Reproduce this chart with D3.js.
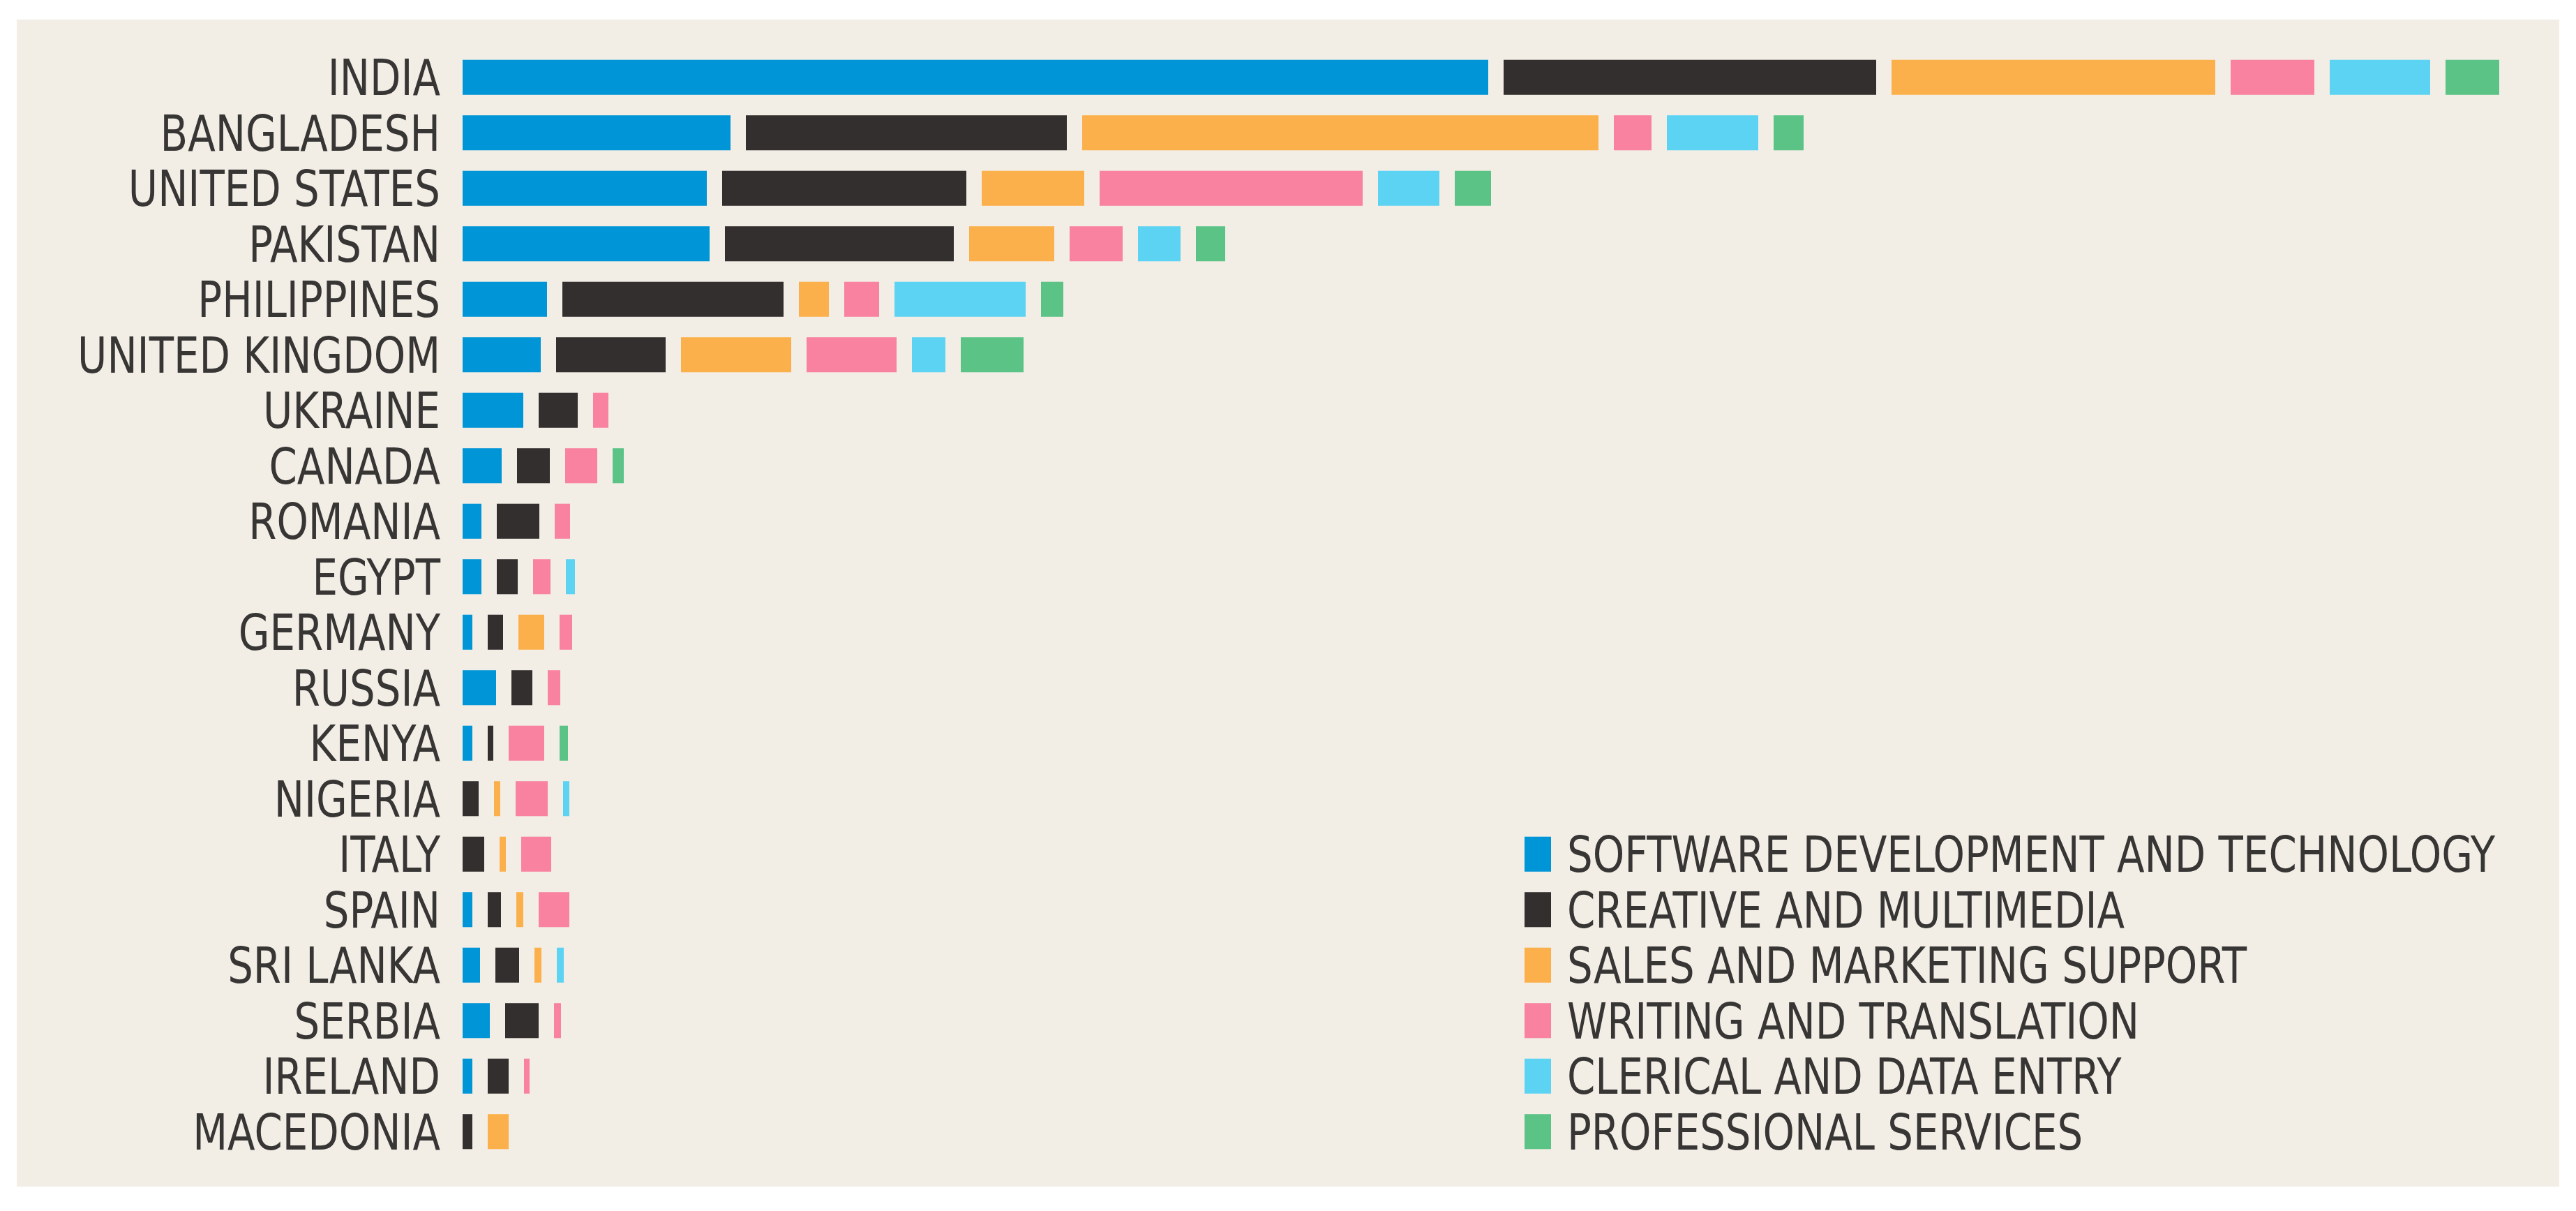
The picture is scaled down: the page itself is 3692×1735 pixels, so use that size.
<!DOCTYPE html>
<html>
<head>
<meta charset="utf-8">
<script src="https://cdn.jsdelivr.net/npm/d3@7"></script>
<style>
  body { margin: 0; background: #ffffff; }
  text { font-family: "DejaVu Sans Condensed", "DejaVu Sans", sans-serif; fill: #383635; }
</style>
</head>
<body>
<div id="my_dataviz"></div>
<script>

// countries, top to bottom
const countries = ["INDIA", "BANGLADESH", "UNITED STATES", "PAKISTAN", "PHILIPPINES",
    "UNITED KINGDOM", "UKRAINE", "CANADA", "ROMANIA", "EGYPT", "GERMANY", "RUSSIA",
    "KENYA", "NIGERIA", "ITALY", "SPAIN", "SRI LANKA", "SERBIA", "IRELAND", "MACEDONIA"];

const categories = ["SOFTWARE DEVELOPMENT AND TECHNOLOGY", "CREATIVE AND MULTIMEDIA",
    "SALES AND MARKETING SUPPORT", "WRITING AND TRANSLATION",
    "CLERICAL AND DATA ENTRY", "PROFESSIONAL SERVICES"];

// one array per category, same order as countries
const software     = [147.0, 38.4, 35.0, 35.4, 12.1, 11.2, 8.7, 5.6, 2.7, 2.7, 1.4, 4.8, 1.4, 0.0, 0.0, 1.4, 2.5, 3.9, 1.4, 0.0];
const creative     = [53.4, 46.0, 35.0, 32.8, 31.7, 15.7, 5.6, 4.7, 6.1, 3.0, 2.2, 3.0, 0.8, 2.3, 3.1, 1.9, 3.4, 4.8, 3.0, 1.4];
const sales        = [46.4, 74.0, 14.7, 12.2, 4.3, 15.8, 0.0, 0.0, 0.0, 0.0, 3.7, 0.0, 0.0, 0.9, 0.9, 1.0, 1.0, 0.0, 0.0, 3.0];
const writing      = [12.0, 5.4, 37.7, 7.6, 5.0, 12.9, 2.2, 4.6, 2.2, 2.5, 1.8, 1.8, 5.1, 4.6, 4.3, 4.4, 0.0, 1.0, 0.8, 0.0];
const clerical     = [14.4, 13.1, 8.8, 6.1, 18.8, 4.8, 0.0, 0.0, 0.0, 1.3, 0.0, 0.0, 0.0, 0.9, 0.0, 0.0, 1.0, 0.0, 0.0, 0.0];
const professional = [7.7, 4.3, 5.2, 4.2, 3.2, 9.0, 0.0, 1.6, 0.0, 0.0, 0.0, 0.0, 1.2, 0.0, 0.0, 0.0, 0.0, 0.0, 0.0, 0.0];

const series = [software, creative, sales, writing, clerical, professional];
const colors = ["#0095d6", "#332f2e", "#fbb04b", "#f8829f", "#5dd3f3", "#5cc387"];

const width = 3692, height = 1735;
const gap = 22;          // space between two segments of a bar
const labelX = 631;      // right edge of the country names
const barX = 663;        // where the bars start
const fontSize = 71;
const longestLabel = 520; // width of "UNITED KINGDOM" in the original, the font is very condensed

const svg = d3.select("#my_dataviz")
    .append("svg")
    .attr("width", width)
    .attr("height", height);

// beige panel
svg.append("rect")
    .attr("x", 24).attr("y", 28)
    .attr("width", 3644).attr("height", 1672)
    .attr("fill", "#f2eee6");

// X scale (no axis is drawn)
const x = d3.scaleLinear()
    .domain([0, 300])
    .range([0, 3000]);

// Y scale
const y = d3.scaleBand()
    .domain(countries)
    .range([71, 1661])
    .paddingInner(0.37)
    .paddingOuter(0.185);

// build the segments: each one starts after the previous ones plus a gap
const segments = [];
countries.forEach((c, i) => {
    let cum = 0, n = 0;
    series.forEach((s, k) => {
        const v = s[i];
        if (v > 0) {
            segments.push({ country: c, cat: k, start: cum, value: v, nGaps: n });
            cum += v;
            n += 1;
        }
    });
});

svg.append("g")
    .selectAll("rect")
    .data(segments)
    .join("rect")
    .attr("x", d => barX + x(d.start) + d.nGaps * gap)
    .attr("y", d => y(d.country))
    .attr("width", d => x(d.value))
    .attr("height", y.bandwidth())
    .attr("fill", d => colors[d.cat]);

// measure how much the installed font has to be squeezed
const probe = svg.append("text").style("font-size", fontSize + "px").text("UNITED KINGDOM");
const sx = longestLabel / probe.node().getComputedTextLength();
probe.remove();

// country names
svg.append("g")
    .selectAll("text")
    .data(countries)
    .join("text")
    .attr("transform", d => `translate(${labelX},${y(d) + y.bandwidth() / 2}) scale(${sx},1)`)
    .attr("dy", "0.36em")
    .attr("text-anchor", "end")
    .style("font-size", fontSize + "px")
    .text(d => d);

// legend, its rows line up with the last six bars
const legendTop = y(countries[countries.length - categories.length]);
const legend = svg.append("g")
    .selectAll("g")
    .data(categories)
    .join("g")
    .attr("transform", (d, i) => `translate(2185,${legendTop + i * y.step()})`);

legend.append("rect")
    .attr("width", 38)
    .attr("height", y.bandwidth())
    .attr("fill", (d, i) => colors[i]);

legend.append("text")
    .attr("transform", `translate(61,${y.bandwidth() / 2}) scale(${sx},1)`)
    .attr("dy", "0.36em")
    .style("font-size", fontSize + "px")
    .text(d => d);

</script>
</body>
</html>
